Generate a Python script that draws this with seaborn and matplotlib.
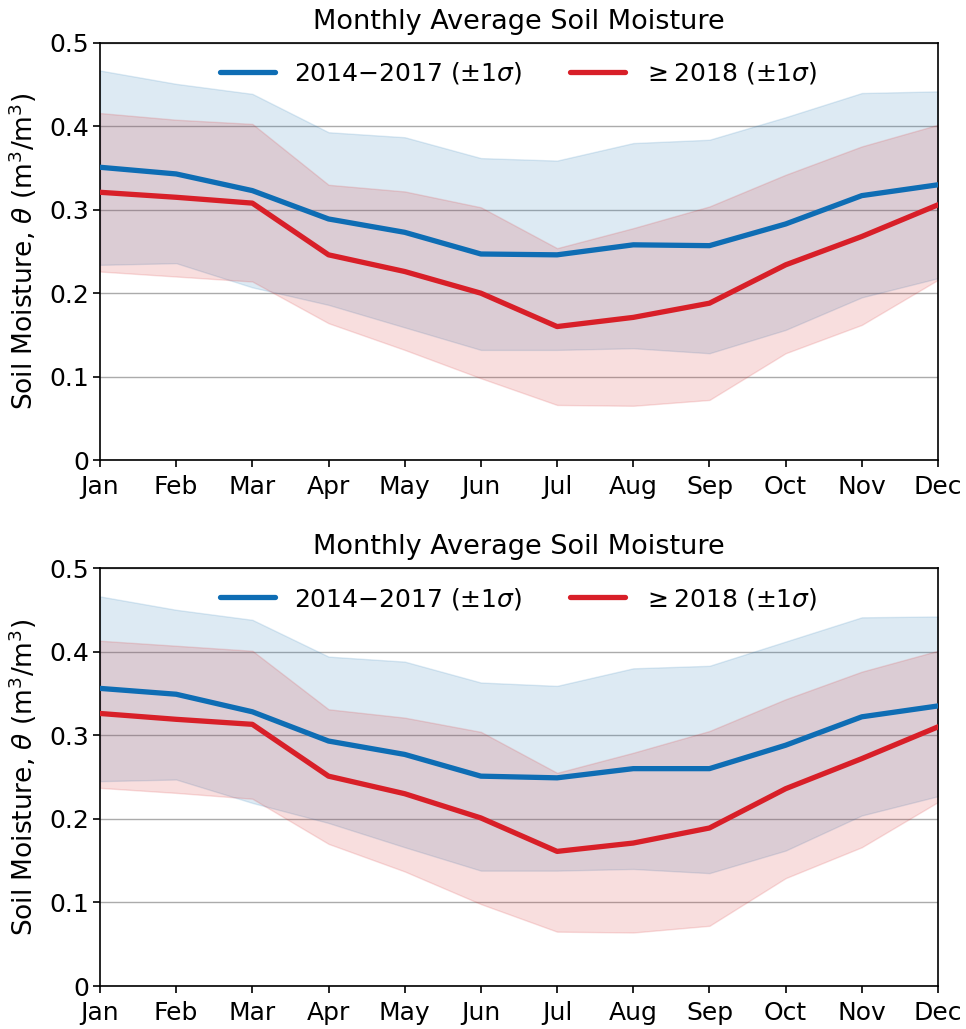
import numpy as np
import pandas as pd
import matplotlib
matplotlib.use("Agg")
import matplotlib.pyplot as plt
import seaborn as sns

months = ["Jan", "Feb", "Mar", "Apr", "May", "Jun", "Jul", "Aug", "Sep", "Oct", "Nov", "Dec"]

# Top panel
top_blue_mean = [0.351, 0.343, 0.323, 0.289, 0.273, 0.247, 0.246, 0.258, 0.257, 0.283, 0.317, 0.330]
top_blue_upper = [0.467, 0.451, 0.439, 0.393, 0.387, 0.362, 0.359, 0.380, 0.384, 0.411, 0.440, 0.442]
top_blue_lower = [0.234, 0.236, 0.207, 0.186, 0.159, 0.132, 0.132, 0.134, 0.128, 0.156, 0.195, 0.218]
top_red_mean = [0.321, 0.315, 0.308, 0.246, 0.226, 0.200, 0.160, 0.171, 0.188, 0.234, 0.268, 0.306]
top_red_upper = [0.416, 0.408, 0.403, 0.330, 0.322, 0.303, 0.254, 0.278, 0.304, 0.342, 0.376, 0.402]
top_red_lower = [0.226, 0.220, 0.214, 0.164, 0.132, 0.098, 0.066, 0.065, 0.072, 0.128, 0.162, 0.216]

# Bottom panel
bot_blue_mean = [0.356, 0.349, 0.328, 0.293, 0.277, 0.251, 0.249, 0.260, 0.260, 0.288, 0.322, 0.335]
bot_blue_upper = [0.466, 0.450, 0.438, 0.394, 0.388, 0.363, 0.359, 0.380, 0.383, 0.412, 0.441, 0.442]
bot_blue_lower = [0.245, 0.247, 0.219, 0.195, 0.166, 0.138, 0.138, 0.140, 0.135, 0.162, 0.204, 0.227]
bot_red_mean = [0.326, 0.319, 0.313, 0.251, 0.230, 0.201, 0.161, 0.171, 0.189, 0.236, 0.272, 0.310]
bot_red_upper = [0.413, 0.407, 0.401, 0.331, 0.321, 0.304, 0.255, 0.279, 0.305, 0.343, 0.376, 0.401]
bot_red_lower = [0.237, 0.231, 0.224, 0.170, 0.137, 0.098, 0.065, 0.064, 0.072, 0.129, 0.166, 0.220]

series_labels = ["2014\u22122017 (\u00b1$1\\sigma$)", "$\\geq$2018 (\u00b1$1\\sigma$)"]
yticks = [0, 0.1, 0.2, 0.3, 0.4, 0.5]
ytick_labels = ["0", "0.1", "0.2", "0.3", "0.4", "0.5"]

BLUE = "#0e6db4"
RED = "#d81f28"
FILL_BLUE = "#1f77b4"
FILL_RED = "#d62728"

sns.set_style("ticks")
plt.rcParams["font.family"] = ["DejaVu Sans"]
plt.rcParams["mathtext.fontset"] = "dejavusans"
plt.rcParams["text.color"] = "black"
plt.rcParams["axes.labelcolor"] = "black"
plt.rcParams["xtick.color"] = "black"
plt.rcParams["ytick.color"] = "black"
plt.rcParams["axes.edgecolor"] = "black"

fig = plt.figure(figsize=(9.66, 10.29), dpi=100)
ax1 = fig.add_axes([100 / 966, 1 - 460 / 1029, 838 / 966, 417 / 1029])
ax2 = fig.add_axes([100 / 966, 1 - 986 / 1029, 838 / 966, 418 / 1029])

panels = [
    (ax1, top_blue_mean, top_blue_lower, top_blue_upper, top_red_mean, top_red_lower, top_red_upper),
    (ax2, bot_blue_mean, bot_blue_lower, bot_blue_upper, bot_red_mean, bot_red_lower, bot_red_upper),
]

x = np.arange(len(months))
for ax, bm, bl, bu, rm, rl, ru in panels:
    df = pd.DataFrame({
        "month": np.concatenate([x, x]),
        "theta": np.concatenate([bm, rm]),
        "period": [series_labels[0]] * 12 + [series_labels[1]] * 12,
    })
    ax.fill_between(x, bl, bu, color=FILL_BLUE, alpha=0.15, linewidth=1.0, zorder=1)
    ax.fill_between(x, rl, ru, color=FILL_RED, alpha=0.15, linewidth=1.0, zorder=1)
    sns.lineplot(data=df, x="month", y="theta", hue="period",
                 palette=[BLUE, RED], linewidth=3.8, ax=ax, zorder=3)
    ax.set_xlim(0, 11)
    ax.set_ylim(0, 0.5)
    ax.set_xticks(x)
    ax.set_xticklabels(months)
    ax.set_yticks(yticks)
    ax.set_yticklabels(ytick_labels)
    ax.tick_params(labelsize=18, length=5, width=1.2)
    ax.tick_params(axis="x", pad=6)
    ax.tick_params(axis="y", pad=3)
    ax.grid(axis="y", color="#888888", linewidth=1.0, alpha=0.7, zorder=0)
    ax.set_axisbelow(True)
    for s in ax.spines.values():
        s.set_linewidth(1.2)
    ax.set_xlabel("")
    ax.set_ylabel("Soil Moisture, $\\theta$ (m$^3$/m$^3$)", fontsize=19, labelpad=7)
    ax.set_title("Monthly Average Soil Moisture", fontsize=19.5, pad=10)
    ax.legend(loc="upper center", ncol=2, frameon=False, fontsize=18,
              handlelength=2.2, handletextpad=0.75, columnspacing=1.9,
              borderaxespad=0.3, bbox_to_anchor=(0.5, 1.0))

fig.savefig("out.png", dpi=100)
